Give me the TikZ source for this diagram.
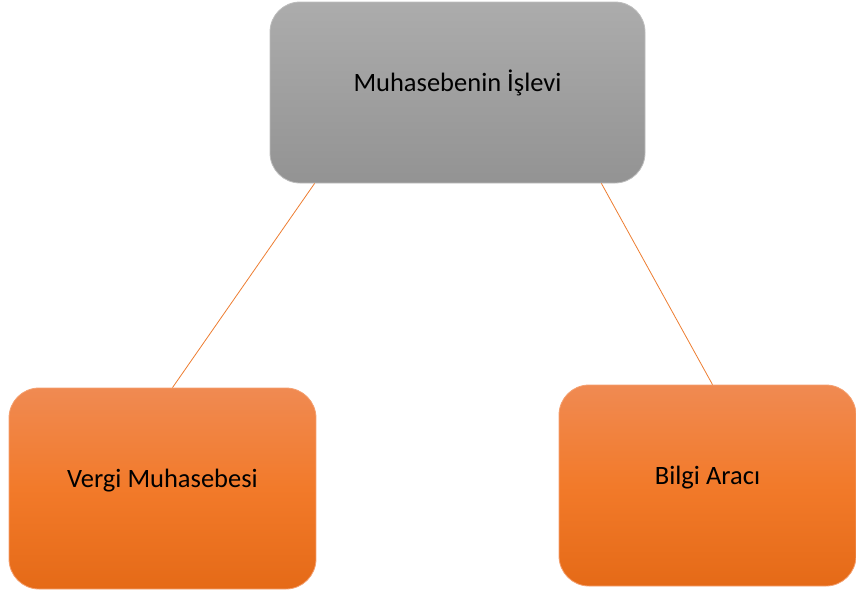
\documentclass[tikz,border=0pt]{standalone}
\usepackage{fontspec}
\setmainfont{Carlito}
\definecolor{greytop}{HTML}{ACACAC}
\definecolor{greybot}{HTML}{939393}
\definecolor{greyedge}{HTML}{BDBDBD}
\definecolor{orangetop}{HTML}{F08A52}
\definecolor{orangemid}{HTML}{F27A2A}
\definecolor{orangebot}{HTML}{E56A17}
\definecolor{orangeedge}{HTML}{F4A070}
\definecolor{linkcol}{HTML}{ED7D31}
\begin{document}
\begin{tikzpicture}[x=1pt,y=-1pt,
  box/.style={rectangle, rounded corners=30pt, line width=0.8pt,
    font=\fontsize{26.5}{30}\selectfont, text height=17pt, text depth=20pt,
    inner sep=0pt, align=center},
  greybox/.style={box, draw=greyedge, top color=greytop, bottom color=greybot},
  orangebox/.style={box, draw=orangeedge, top color=orangetop, bottom color=orangebot, middle color=orangemid},
  link/.style={draw=linkcol, line width=0.8pt}]
\useasboundingbox (0,0) rectangle (856,592);
\node[greybox, minimum width=375pt, minimum height=181pt] (top) at (457.5,92.5) {Muhasebenin İşlevi};
\node[orangebox, minimum width=307pt, minimum height=201pt] (left) at (162.5,488.5) {Vergi Muhasebesi};
\node[orangebox, minimum width=297pt, minimum height=201pt] (right) at (707.5,485.5) {Bilgi Aracı};
\coordinate (t1) at ([xshift=45pt]top.south west);
\coordinate (t2) at ([xshift=-44pt]top.south east);
\coordinate (b1) at ([xshift=10pt]left.north);
\coordinate (b2) at ([xshift=5pt]right.north);
\draw[link] (t1) -- (b1);
\draw[link] (t2) -- (b2);
\end{tikzpicture}
\end{document}
